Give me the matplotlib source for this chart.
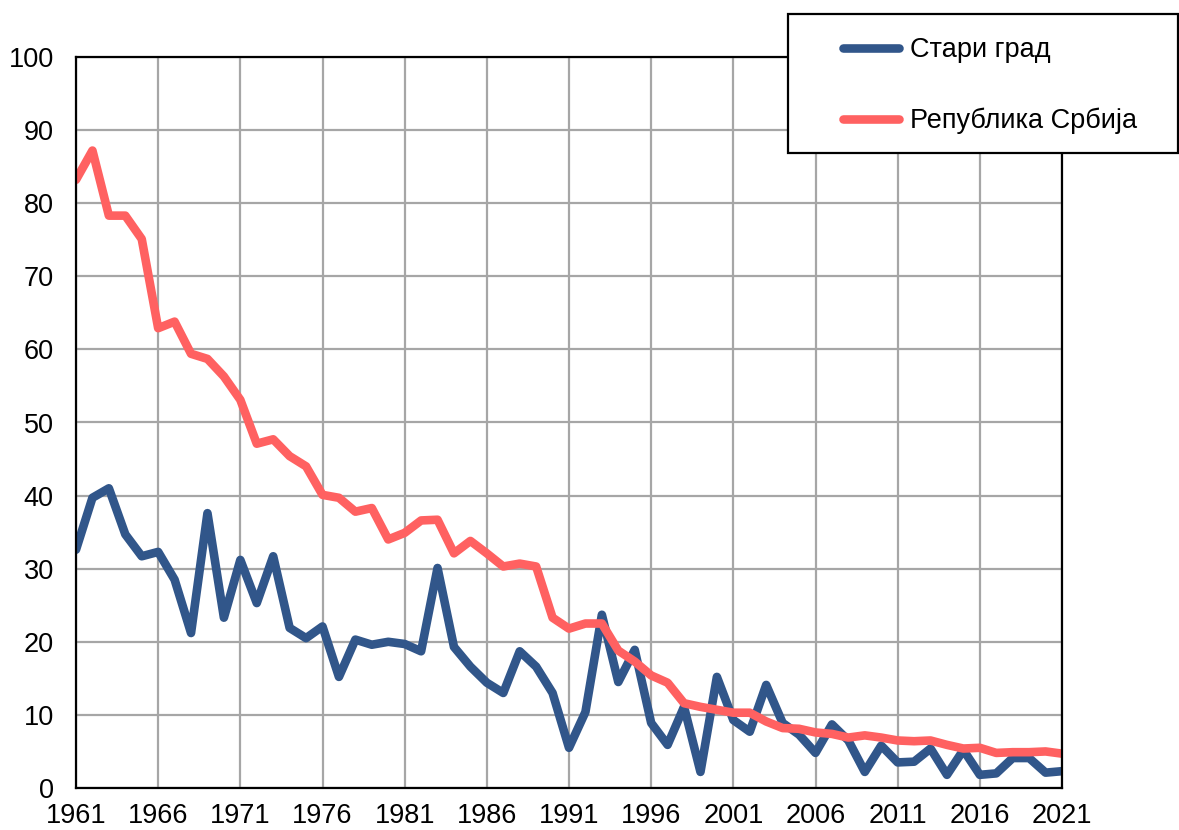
import matplotlib
matplotlib.use("Agg")
import matplotlib.pyplot as plt
from matplotlib.patches import Rectangle

years = list(range(1961, 2022))

stari_grad = [
    32.6, 39.7, 41.0, 34.7, 31.7, 32.3, 28.5, 21.2, 37.6, 23.3,
    31.2, 25.3, 31.7, 21.9, 20.5, 22.1, 15.2, 20.3, 19.6, 20.0,
    19.7, 18.7, 30.1, 19.3, 16.6, 14.4, 13.0, 18.7, 16.6, 13.0,
    5.5, 10.4, 23.7, 14.5, 18.9, 8.9, 5.9, 11.1, 2.2, 15.2,
    9.3, 7.7, 14.1, 8.9, 7.3, 4.8, 8.7, 6.5, 2.2, 5.8,
    3.5, 3.6, 5.4, 1.8, 5.2, 1.8, 2.0, 4.1, 4.1, 2.1,
    2.3,
]

srbija = [
    83.2, 87.2, 78.3, 78.3, 75.1, 62.9, 63.8, 59.4, 58.7, 56.3,
    53.1, 47.1, 47.7, 45.4, 44.0, 40.1, 39.7, 37.8, 38.3, 34.0,
    34.9, 36.6, 36.7, 32.1, 33.8, 32.1, 30.3, 30.7, 30.3, 23.3,
    21.8, 22.5, 22.5, 18.8, 17.3, 15.4, 14.4, 11.6, 11.1, 10.7,
    10.3, 10.3, 9.1, 8.2, 8.1, 7.6, 7.4, 6.9, 7.2, 6.9,
    6.5, 6.4, 6.5, 5.9, 5.4, 5.5, 4.8, 4.9, 4.9, 5.0,
    4.7,
]

x_ticks = list(range(1961, 2022, 5))
y_ticks = list(range(0, 101, 10))

blue = "#31568A"
red = "#FF6161"
grid_col = "#A6A6A6"

plt.rcParams["font.family"] = ["Liberation Sans", "DejaVu Sans"]

fig = plt.figure(figsize=(11.79, 8.30), dpi=100)
W, H = 1179, 830
ax = fig.add_axes([76 / W, 1 - 788 / H, (1062 - 76) / W, (788 - 57) / H])

ax.plot(years, stari_grad, color=blue, lw=6.2, solid_joinstyle="round",
        solid_capstyle="round", label="Стари град", zorder=3)
ax.plot(years, srbija, color=red, lw=6.2, solid_joinstyle="round",
        solid_capstyle="round", label="Република Србија", zorder=3)

ax.set_xlim(1961, 2021)
ax.set_ylim(0, 100)
ax.set_xticks(x_ticks)
ax.set_yticks(y_ticks)
ax.tick_params(axis="both", length=0, labelsize=19.5)
ax.tick_params(axis="x", pad=11)
ax.tick_params(axis="y", pad=16)
ax.grid(True, color=grid_col, lw=1.6, zorder=0)
for s in ax.spines.values():
    s.set_color("black")
    s.set_linewidth(1.6)
    s.set_zorder(4)

# legend box
box = Rectangle((788 / W, 1 - 153 / H), (1178 - 788) / W, (153 - 14) / H,
                transform=fig.transFigure, facecolor="white",
                edgecolor="black", lw=1.6, zorder=5)
fig.add_artist(box)
leg = fig.legend(loc="upper left", bbox_to_anchor=(843 / W, 1 - 37 / H),
                 frameon=False, fontsize=19.5, handlelength=2.07,
                 handletextpad=0.4, labelspacing=1.65, borderpad=0,
                 borderaxespad=0)
leg.set_zorder(6)
for line in leg.get_lines():
    line.set_linewidth(6.2)
    line.set_solid_capstyle("round")

fig.savefig("out.png", dpi=100)
